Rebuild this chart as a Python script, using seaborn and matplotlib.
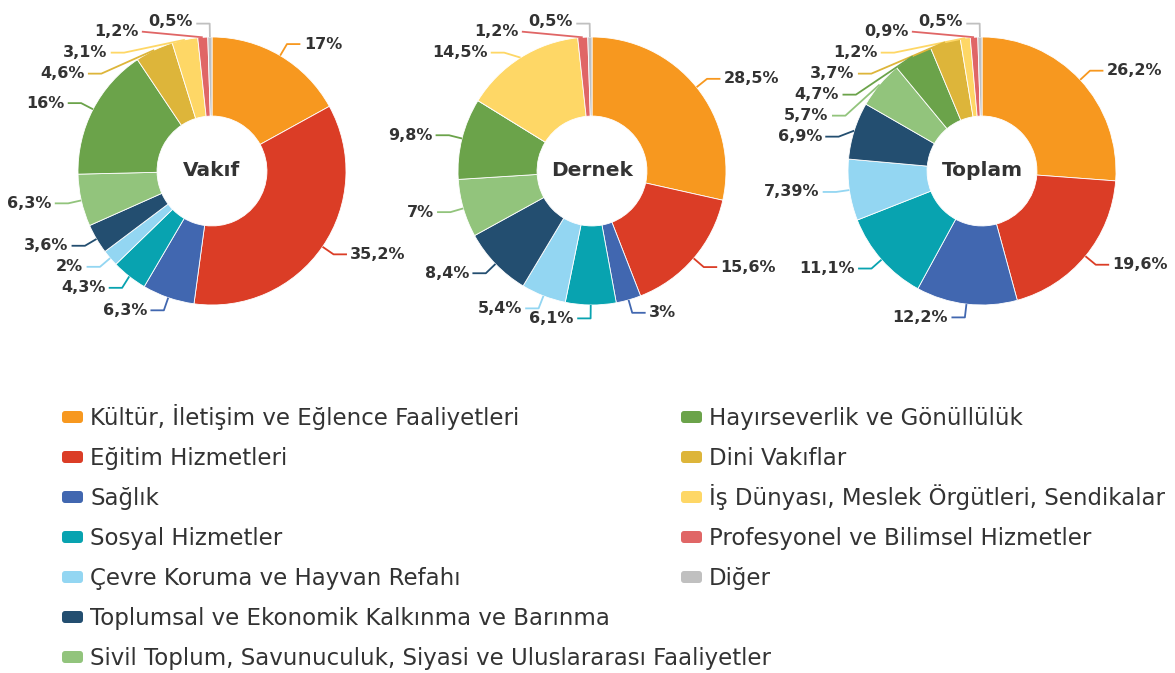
import numpy as np
import matplotlib
matplotlib.use("Agg")
import matplotlib.pyplot as plt
from matplotlib.patches import FancyBboxPatch
from matplotlib.transforms import Affine2D
import seaborn as sns

# Categories (legend order = slice order, clockwise from 12 o'clock)
categories = [
    "Kültür, İletişim ve Eğlence Faaliyetleri",
    "Eğitim Hizmetleri",
    "Sağlık",
    "Sosyal Hizmetler",
    "Çevre Koruma ve Hayvan Refahı",
    "Toplumsal ve Ekonomik Kalkınma ve Barınma",
    "Sivil Toplum, Savunuculuk, Siyasi ve Uluslararası Faaliyetler",
    "Hayırseverlik ve Gönüllülük",
    "Dini Vakıflar",
    "İş Dünyası, Meslek Örgütleri, Sendikalar",
    "Profesyonel ve Bilimsel Hizmetler",
    "Diğer",
]
colors = ["#F7981F", "#DB3D26", "#4167B0", "#08A3B0", "#93D6F2", "#234E70",
          "#92C47C", "#6BA34A", "#DDB53A", "#FED766", "#E06666", "#C0C0C0"]

# Shares (%) per group
vakif = [17, 35.2, 6.3, 4.3, 2, 3.6, 6.3, 16, 4.6, 3.1, 1.2, 0.5]
dernek = [28.5, 15.6, 3, 6.1, 5.4, 8.4, 7, 9.8, 0, 14.5, 1.2, 0.5]
toplam = [26.2, 19.6, 12.2, 11.1, 7.39, 6.9, 5.7, 4.7, 3.7, 1.2, 0.9, 0.5]
titles = ["Vakıf", "Dernek", "Toplam"]

W, H = 1175, 673
TEXT = "#333333"
PX = 134          # pixels per unit of outer radius
R_IN = 0.41
ELBOW = 1.1
ARM = 0.1
PAD = 0.025
GAP = 21 / PX
YMAX = 1.04

sns.set_theme(style="white")
plt.rcParams['font.family'] = ['DejaVu Sans']


def fmt(v):
    return f"{v:g}".replace(".", ",") + "%"


def draw_donut(fig, cx, values, title):
    side = 400
    ax = fig.add_axes([(cx - side / 2) / W, (H - 171 - side / 2) / H, side / W, side / H])
    wedges, _ = ax.pie(values, colors=colors, startangle=90, counterclock=False, radius=1,
                       wedgeprops=dict(width=1 - R_IN, edgecolor='white', linewidth=0.6))
    lim = side / 2 / PX
    ax.set_xlim(-lim, lim)
    ax.set_ylim(-lim, lim)
    ax.axis('off')
    ax.text(0, 0, title, ha='center', va='center', fontsize=14.5,
            fontweight='bold', color=TEXT)

    renderer = fig.canvas.get_renderer()
    inv = ax.transData.inverted()

    def bbox_data(t):
        bb = t.get_window_extent(renderer)
        (x0, y0), (x1, y1) = inv.transform([(bb.x0, bb.y0), (bb.x1, bb.y1)])
        return x0, x1

    items = []
    for w, v in zip(wedges, values):
        if v <= 0:
            continue
        ang = np.deg2rad((w.theta1 + w.theta2) / 2)
        x, y = np.cos(ang), np.sin(ang)
        items.append(dict(v=v, c=w.get_facecolor(), x=x, y=y,
                          side=1 if x >= 0 else -1, ny=ELBOW * y,
                          fixed=abs(x) < 0.04))

    def put_label(it, ly, end_x, direct=False):
        s = it['side']
        if direct:
            xs, ys = [it['x'], end_x], [it['y'], ly]
        else:
            ex = s * np.sqrt(max(ELBOW ** 2 - ly ** 2, 0)) if not it['fixed'] else ELBOW * it['x']
            xs, ys = [it['x'], ex, end_x], [it['y'], ly, ly]
        ax.plot(xs, ys, color=it['c'], lw=1.3, solid_capstyle='butt', clip_on=False)
        dy = 0.015 if it['fixed'] and ly > 0 else 0
        t = ax.text(end_x + s * PAD, ly + dy, fmt(it['v']), ha='left' if s > 0 else 'right',
                    va='center', fontsize=11.5, fontweight='bold', color=TEXT)
        return t

    # labels sitting on a vertical connector (top/bottom) are placed first
    obstacles = []
    for it in items:
        if it['fixed']:
            end_x = ELBOW * it['x'] + it['side'] * ARM
            t = put_label(it, it['ny'], end_x)
            obstacles.append((it['side'], it['ny'], t))

    for s in (1, -1):
        group = sorted([it for it in items if it['side'] == s and not it['fixed']],
                       key=lambda d: -d['ny'])
        prev = np.inf
        for it in group:
            ly = min(it['ny'], YMAX, prev - GAP)
            prev = ly
            ex = s * np.sqrt(max(ELBOW ** 2 - ly ** 2, 0))
            end_x = ex + s * ARM
            direct = False
            for os_, oy, ot in obstacles:
                if os_ != s or abs(oy - ly) >= GAP:
                    continue
                ox0, ox1 = bbox_data(ot)
                if s < 0 and end_x - PAD > ox0 - PAD:
                    end_x = ox0 - 2 * PAD
                    direct = True
                elif s > 0 and end_x + PAD < ox1 + PAD:
                    end_x = ox1 + 2 * PAD
                    direct = True
            put_label(it, ly, end_x, direct)
    return ax


fig = plt.figure(figsize=(W / 100, H / 100), dpi=100)
for cx, vals, title in zip([212, 592, 982], [vakif, dernek, toplam], titles):
    draw_donut(fig, cx, vals, title)

# Legend: two columns (7 + 5 entries), rows 40 px apart, in pixel coordinates
px = Affine2D().scale(1 / 100) + fig.dpi_scale_trans
col_x = [62, 681]
for i, (lab, c) in enumerate(zip(categories, colors)):
    col = 0 if i < 7 else 1
    row = i if i < 7 else i - 7
    yc = H - (417 + 40 * row)
    box = FancyBboxPatch((col_x[col] + 1.5, yc - 4.5), 18, 9,
                         boxstyle="round,pad=1.5,rounding_size=3",
                         facecolor=c, edgecolor='none', transform=px)
    fig.patches.append(box)
    fig.text(col_x[col] + 28, yc - 8.3, lab, transform=px, ha='left', va='baseline',
             fontsize=16.5, color=TEXT)

fig.savefig("out.png", dpi=100)
